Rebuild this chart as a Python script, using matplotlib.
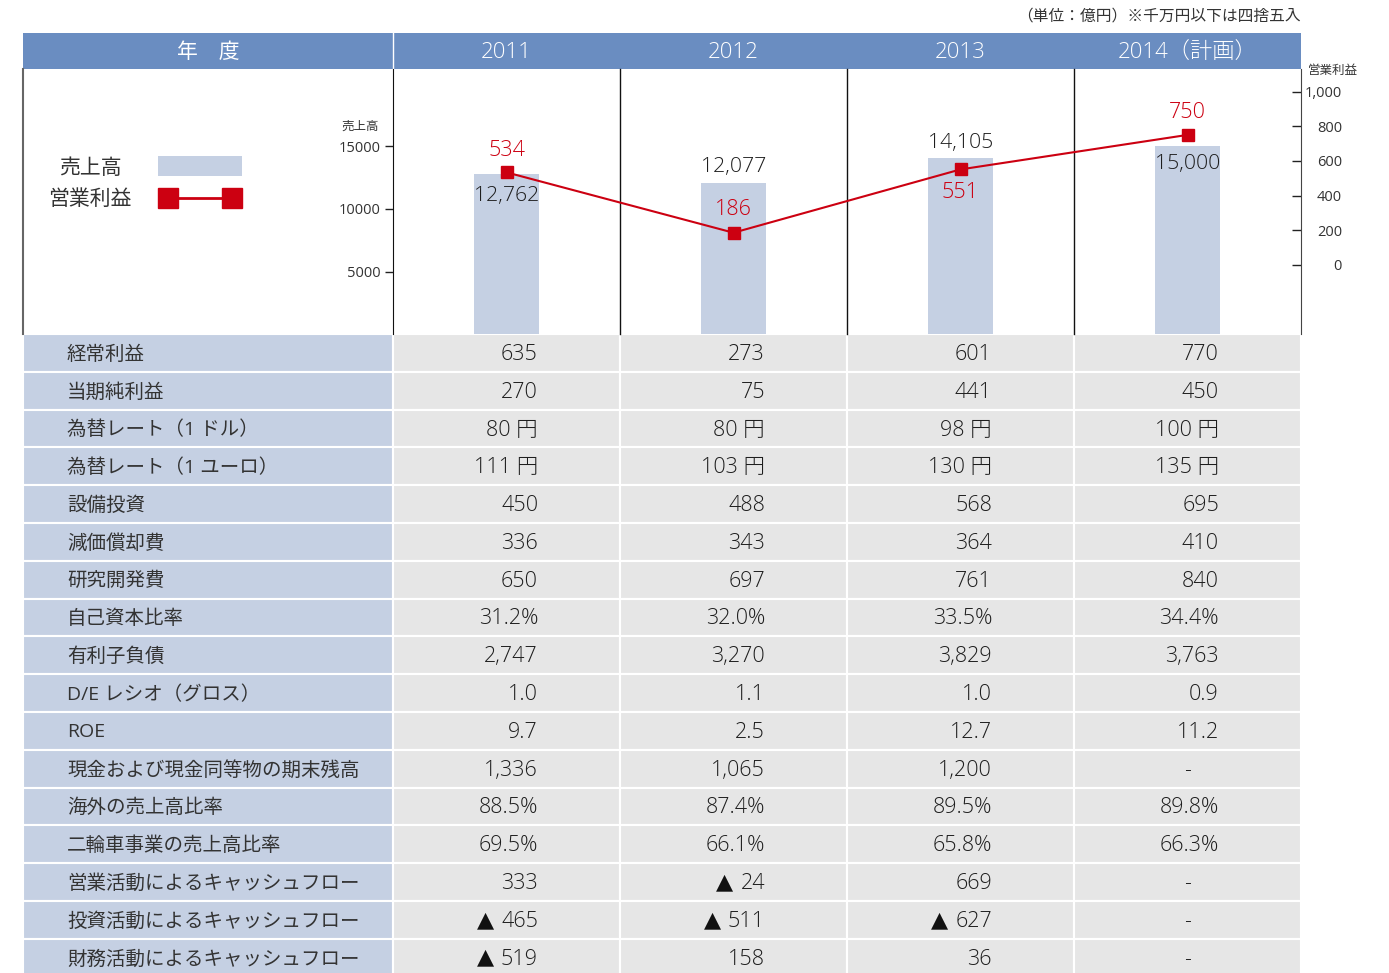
import matplotlib
matplotlib.use('Agg')
import matplotlib.pyplot as plt
from matplotlib.patches import Rectangle
from matplotlib.ticker import FuncFormatter

plt.rcParams['font.family'] = ['Open Sans', 'Noto Sans CJK JP', 'DejaVu Sans']

# -------------------- data --------------------
years = ['2011', '2012', '2013', '2014（計画）']
sales = [12762, 12077, 14105, 15000]          # 売上高
op_income = [534, 186, 551, 750]              # 営業利益

row_labels = ['経常利益', '当期純利益', '為替レート（1 ドル）', '為替レート（1 ユーロ）',
              '設備投資', '減価償却費', '研究開発費', '自己資本比率', '有利子負債',
              'D/E レシオ（グロス）', 'ROE', '現金および現金同等物の期末残高',
              '海外の売上高比率', '二輪車事業の売上高比率',
              '営業活動によるキャッシュフロー', '投資活動によるキャッシュフロー',
              '財務活動によるキャッシュフロー']
col_2011 = ['635', '270', '80 円', '111 円', '450', '336', '650', '31.2%', '2,747',
            '1.0', '9.7', '1,336', '88.5%', '69.5%', '333', '▲ 465', '▲ 519']
col_2012 = ['273', '75', '80 円', '103 円', '488', '343', '697', '32.0%', '3,270',
            '1.1', '2.5', '1,065', '87.4%', '66.1%', '▲ 24', '▲ 511', '158']
col_2013 = ['601', '441', '98 円', '130 円', '568', '364', '761', '33.5%', '3,829',
            '1.0', '12.7', '1,200', '89.5%', '65.8%', '669', '▲ 627', '36']
col_2014 = ['770', '450', '100 円', '135 円', '695', '410', '840', '34.4%', '3,763',
            '0.9', '11.2', '-', '89.8%', '66.3%', '-', '-', '-']
columns = [col_2011, col_2012, col_2013, col_2014]

# -------------------- colours / layout --------------------
header_blue = '#6a8dc1'
light_blue = '#c5d0e3'
cell_gray = '#e6e6e6'
red = '#cc0011'
txt = '#333333'
num_txt = '#1e1e1e'

W, H = 1389, 973
left, first_w, col_w = 23, 370, 227
head_top, head_bot = 33, 69
chart_bot = 334
row_h = 37.8
col_x0 = [left + first_w + i * col_w for i in range(4)]
col_cx = [x + col_w / 2 for x in col_x0]
right_edge = col_x0[-1] + col_w

fig = plt.figure(figsize=(W / 100, H / 100), dpi=100)
bg = fig.add_axes([0, 0, 1, 1])
bg.set_xlim(0, W)
bg.set_ylim(H, 0)
bg.axis('off')

# note
bg.text(right_edge, 17, '（単位：億円）※千万円以下は四捨五入', ha='right', va='center',
        fontsize=11.3, color=txt)

# header row
bg.add_patch(Rectangle((left, head_top), right_edge - left, head_bot - head_top,
                       facecolor=header_blue, edgecolor='none'))
bg.plot([col_x0[0], col_x0[0]], [head_top, head_bot], color='white', lw=1)
bg.text(left + first_w / 2, 52, '年　度', ha='center', va='center',
        fontsize=15, color='white')
for cx, y in zip(col_cx, years):
    bg.text(cx, 53, y, ha='center', va='center', fontsize=16, color='white',
            fontweight='light')

# chart area lines
bg.plot([left, left], [head_bot, chart_bot], color='#666666', lw=1.5)
for x in col_x0[1:]:
    bg.plot([x, x], [head_bot, chart_bot], color='#111111', lw=1)

# legend
bg.add_patch(Rectangle((158, 156), 84, 20, facecolor=light_blue, edgecolor='none'))
bg.plot([168, 232], [198, 198], color=red, lw=2, marker='s', ms=14)
bg.text(90, 169, '売上高', ha='center', va='center', fontsize=15, color=txt)
bg.text(90, 199, '営業利益', ha='center', va='center', fontsize=15, color=txt)

# axis titles
bg.text(360, 126, '売上高', ha='center', va='center', fontsize=9, color=txt)
bg.text(1333, 70, '営業利益', ha='center', va='center', fontsize=9, color=txt)

# table
for i, label in enumerate(row_labels):
    y0 = chart_bot + i * row_h
    yc = y0 + row_h / 2 + 1.5
    bg.add_patch(Rectangle((left, y0), first_w, row_h, facecolor=light_blue,
                           edgecolor='white', lw=1.5))
    bg.text(67, yc, label, ha='left', va='center', fontsize=14, color=txt)
    for j in range(4):
        bg.add_patch(Rectangle((col_x0[j], y0), col_w, row_h, facecolor=cell_gray,
                               edgecolor='white', lw=1.5))
        val = columns[j][i]
        if val == '-':
            bg.text(col_cx[j], yc, val, ha='center', va='center',
                    fontsize=15.5, color=num_txt, fontweight='light')
            continue
        neg = val.startswith('▲')
        t = bg.text(col_cx[j] + 31.5, yc, val.lstrip('▲ '), ha='right', va='center',
                    fontsize=15.5, color=num_txt, fontweight='light')
        if neg:
            # triangle marking negative values, placed left of the number
            bg.annotate('▲', xy=(0, 0.5), xycoords=t, xytext=(-7, 1.5),
                        textcoords='offset pixels', ha='right', va='center',
                        family='DejaVu Sans', fontsize=16, color='#111111')

# -------------------- chart --------------------
ax = fig.add_axes([col_x0[0] / W, 1 - chart_bot / H, (right_edge - col_x0[0]) / W,
                   (chart_bot - head_bot) / H])
ax.patch.set_alpha(0)
x = list(range(len(years)))
ax.bar(x, sales, width=0.29, color=light_blue, zorder=1)
ax.set_xlim(-0.5, 3.5)
ax.set_ylim(0, 21200)
ax.set_xticks([])
ax.set_yticks([5000, 10000, 15000])
ax.tick_params(axis='y', direction='out', length=6, width=1, labelsize=10.5,
               labelcolor=txt, color='#222222', pad=3)
for s in ['top', 'bottom', 'right']:
    ax.spines[s].set_visible(False)
ax.spines['left'].set_color('#111111')

ax2 = ax.twinx()
ax2.plot(x, op_income, color=red, lw=1.5, marker='s', ms=8, zorder=3)
ax2.set_ylim(-398, 1130)
ax2.set_yticks([0, 200, 400, 600, 800, 1000])
ax2.yaxis.set_major_formatter(FuncFormatter(lambda v, p: f'{int(v):,}'))
ax2.tick_params(axis='y', direction='in', length=6.5, width=1, labelsize=10.5,
                labelcolor=txt, color='#222222', pad=29.5)
for lab in ax2.get_yticklabels():
    lab.set_horizontalalignment('right')
for s in ['top', 'bottom', 'left']:
    ax2.spines[s].set_visible(False)
ax2.spines['right'].set_color('#444444')

# value labels
sales_off = [-22, 16, 15, -17]
for xi, v, off in zip(x, sales, sales_off):
    ax.annotate(f'{v:,}', (xi, v), xytext=(0, off), textcoords='offset pixels',
                ha='center', va='center', fontsize=15.3, color=num_txt, fontweight='light')
op_off = [22, 23, -23, 22]
for xi, v, off in zip(x, op_income, op_off):
    ax2.annotate(str(v), (xi, v), xytext=(0, off), textcoords='offset pixels',
                 ha='center', va='center', fontsize=15.5, color=red, fontweight='light')

fig.savefig('out.png', dpi=100)
